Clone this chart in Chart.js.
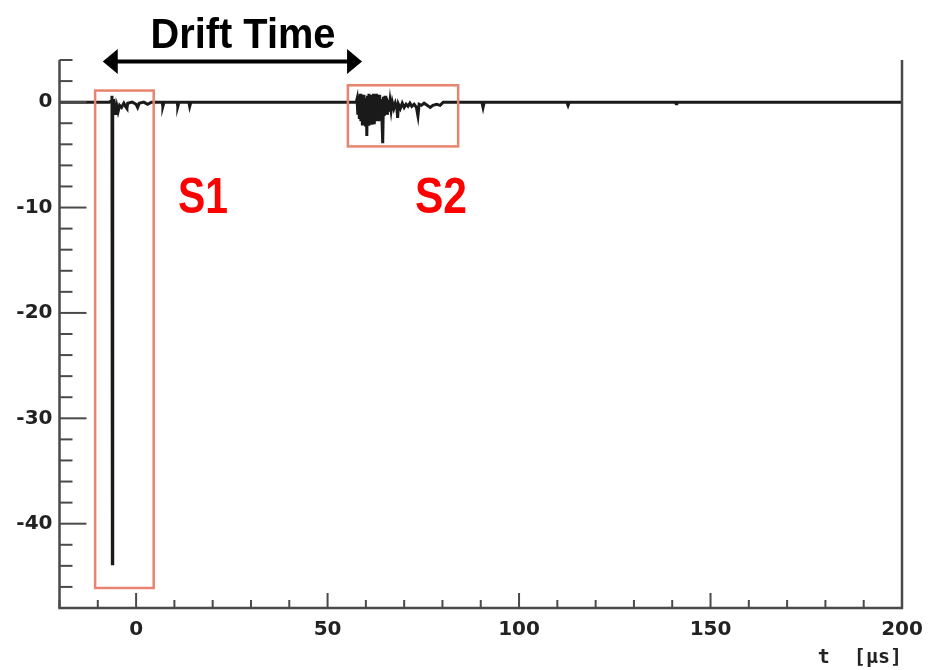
<!DOCTYPE html>
<html>
<head>
<meta charset="utf-8">
<script src="https://cdn.jsdelivr.net/npm/chart.js@4.4.1/dist/chart.umd.min.js"></script>
<style>
  html, body { margin: 0; padding: 0; background: #fff; }
  canvas { display: block; }
</style>
</head>
<body>
<canvas id="pulseChart" width="931" height="670"></canvas>
<script>
// waveform: t in us, amplitude in arbitrary units
const s1Time = [-20, -7, -6.5, -6.3, -6.2, -6.1, -5.9, -5.7, -5.5, -5.3, -5.0, -4.7, -4.3, -3.8, -3.2, -2.6, -2.4, -2.2,
  -1, 0, 0.4, 0.8, 2, 3, 4, 6.8, 7.0, 7.3, 10.7, 10.9, 11.2, 13.8, 14.0, 14.3];
const s1Amp = [0, 0, 0.1, 0.6, -43.8, -1.2, 0.3, -1.1, -0.6, -1.2, -0.4, -0.9, -0.3, -0.5, -0.1, -0.5, -0.6, -0.1,
  0, -0.2, -0.5, -0.1, 0, -0.2, 0, 0, -0.4, 0, 0, -0.4, 0, 0, -0.4, 0];

const s2Time = [57.5, 57.7, 57.9, 58.1, 58.3, 58.5, 58.7, 58.9, 59.1, 59.3, 59.5, 59.7, 59.9, 60.1, 60.25, 60.4,
  60.6, 60.8, 61.0, 61.2, 61.4, 61.6, 61.8, 62.0, 62.2, 62.4, 62.6, 62.8, 63.0, 63.2, 63.4, 63.6, 63.8, 64.0,
  64.2, 64.4, 64.6, 64.8, 65.0, 65.2, 65.4, 65.6, 65.8, 66.0, 66.3, 66.6, 66.9, 67.3, 67.7, 68.1, 68.3, 68.5,
  69.0, 69.5, 70.0, 70.5, 71.0, 71.5, 72.0, 72.6, 73.2, 73.6, 73.9, 74.5, 75.2, 76.0, 76.8, 77.5, 78.5, 79.4, 80.2];
const s2Amp = [0, 0.3, -1.2, 0.6, -1.6, 0.8, -1.8, 0.5, -2.2, 0.7, -2.0, 0.4, -2.3, 0.2, -3.2, 0.6,
  -2.1, 0.8, -1.9, 0.5, -2.0, 0.7, -1.7, 0.8, -2.1, 0.4, -1.8, 0.8, -1.6, 0.6, -1.8, 0.7, -1.5, 0.3,
  -1.6, -3.9, 0.5, -1.3, 0.6, -1.1, 0.4, -1.2, 0.2, -0.9, 0.1, -0.8, 0, -0.6, -0.1, -0.6, -1.5, -0.2,
  -0.6, -0.1, -0.5, -0.2, -0.4, -0.1, -0.4, -0.2, -0.5, -1.3, -0.2, -0.3, -0.1, -0.3, -0.5, -0.3, -0.2, -0.3, 0];

const tailTime = [90.3, 90.6, 90.9, 112.5, 112.8, 113.1, 140.8, 141.0, 141.2, 200];
const tailAmp = [0, -0.5, 0, 0, -0.3, 0, 0, -0.15, 0, 0];

const xTickLabels = [0, 50, 100, 150, 200];
const yTickLabels = [0, -10, -20, -30, -40];

const waveTime = s1Time.concat(s2Time, tailTime);
const waveAmp = s1Amp.concat(s2Amp, tailAmp);

function line(ctx, x1, y1, x2, y2) {
  ctx.beginPath();
  ctx.moveTo(x1, y1);
  ctx.lineTo(x2, y2);
  ctx.stroke();
}

function squeezedText(ctx, text, cx, baseY, font, width) {
  ctx.save();
  ctx.font = font;
  const w = ctx.measureText(text).width;
  ctx.translate(cx, baseY);
  ctx.scale(width / w, 1);
  ctx.textAlign = "center";
  ctx.textBaseline = "alphabetic";
  ctx.fillText(text, 0, 0);
  ctx.restore();
}

// ROOT-like frame with ticks inside, plus the drawn notes
const frameAndNotes = {
  id: "frameAndNotes",
  afterDatasetsDraw(chart) {
    const { ctx, chartArea: a, scales } = chart;
    const x = scales.x, y = scales.y;
    ctx.save();
    ctx.strokeStyle = "#4a4a4a";
    ctx.lineWidth = 2;
    y.ticks.forEach((t) => {
      const py = y.getPixelForValue(t.value);
      line(ctx, a.left, py, a.left + (t.value % 10 === 0 ? 27 : 13), py);
    });
    x.ticks.forEach((t) => {
      const px = x.getPixelForValue(t.value);
      line(ctx, px, a.bottom, px, a.bottom - (t.value % 50 === 0 ? 15 : 8));
    });
    ctx.lineWidth = 2.5;
    ctx.beginPath();
    ctx.moveTo(a.left, a.top);
    ctx.lineTo(a.left, a.bottom);
    ctx.lineTo(a.right, a.bottom);
    ctx.lineTo(a.right, a.top);
    ctx.stroke();

    // boxes round S1 and S2
    ctx.strokeStyle = "#e8836f";
    ctx.lineWidth = 2.5;
    [[-10.7, 4.6, 1.1, -46.1], [55.3, 84.1, 1.6, -4.2]].forEach((b) => {
      const x0 = x.getPixelForValue(b[0]), x1 = x.getPixelForValue(b[1]);
      const y0 = y.getPixelForValue(b[2]), y1 = y.getPixelForValue(b[3]);
      ctx.strokeRect(x0, y0, x1 - x0, y1 - y0);
    });

    // drift time arrow
    const ax0 = x.getPixelForValue(-8.7), ax1 = x.getPixelForValue(59.0);
    const ay = y.getPixelForValue(3.85);
    ctx.strokeStyle = "#000";
    ctx.fillStyle = "#000";
    ctx.lineWidth = 4;
    line(ctx, ax0 + 10, ay, ax1 - 10, ay);
    ctx.beginPath();
    ctx.moveTo(ax0, ay);
    ctx.lineTo(ax0 + 15, ay - 12.5);
    ctx.lineTo(ax0 + 15, ay + 12.5);
    ctx.closePath();
    ctx.fill();
    ctx.beginPath();
    ctx.moveTo(ax1, ay);
    ctx.lineTo(ax1 - 15, ay - 12.5);
    ctx.lineTo(ax1 - 15, ay + 12.5);
    ctx.closePath();
    ctx.fill();

    squeezedText(ctx, "Drift Time", 243, 48, "bold 42px 'Liberation Sans Narrow', 'Liberation Sans', sans-serif", 185);
    ctx.fillStyle = "#ff0000";
    squeezedText(ctx, "S1", 203, 213, "bold 50px 'Liberation Sans Narrow', 'Liberation Sans', sans-serif", 50);
    squeezedText(ctx, "S2", 441, 213, "bold 50px 'Liberation Sans Narrow', 'Liberation Sans', sans-serif", 52);
    ctx.restore();
  },
};

const tickFont = { family: "DejaVu Sans", weight: "bold", size: 20 };

new Chart(document.getElementById("pulseChart").getContext("2d"), {
  type: "scatter",
  data: {
    datasets: [
      {
        data: waveTime.map((t, i) => ({ x: t, y: waveAmp[i] })),
        showLine: true,
        borderColor: "#1a1a1a",
        borderWidth: 3,
        pointRadius: 0,
        tension: 0,
      },
    ],
  },
  options: {
    responsive: false,
    animation: false,
    devicePixelRatio: 1,
    layout: { padding: { top: 60, right: 29, bottom: 0, left: 0 } },
    plugins: { legend: { display: false }, tooltip: { enabled: false } },
    scales: {
      x: {
        type: "linear",
        min: -20,
        max: 200,
        grid: { display: false },
        border: { display: false },
        ticks: {
          stepSize: 10,
          autoSkip: false,
          maxRotation: 0,
          padding: 2,
          color: "#222",
          font: tickFont,
          callback: (v) => (xTickLabels.includes(v) ? String(v) : ""),
        },
        title: {
          display: true,
          text: "t  [\u03bcs]",
          align: "end",
          color: "#222",
          font: { family: "DejaVu Sans Mono", weight: "bold", size: 20 },
          padding: { top: 0, bottom: 0 },
        },
        afterFit: (s) => { s.height = 62; },
      },
      y: {
        type: "linear",
        min: -48,
        max: 4,
        grid: { display: false, drawTicks: false },
        border: { display: false },
        ticks: {
          stepSize: 2,
          autoSkip: false,
          padding: 7,
          color: "#222",
          font: tickFont,
          callback: (v) => (yTickLabels.includes(v) ? String(v) : ""),
        },
        afterFit: (s) => { s.width = 59.5; },
      },
    },
  },
  plugins: [frameAndNotes],
});
</script>
</body>
</html>
